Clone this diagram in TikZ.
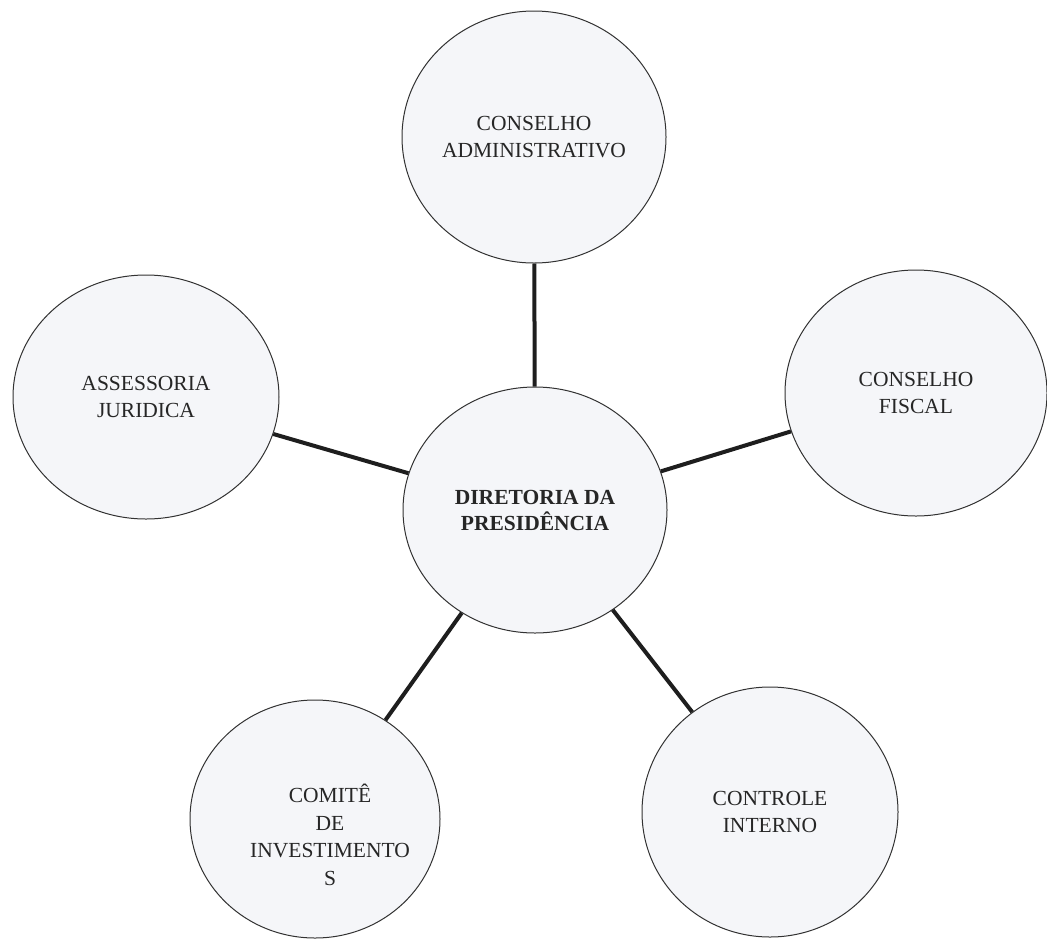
\documentclass[tikz,border=0pt]{standalone}
\usepackage{fontspec}
\setmainfont{Liberation Serif}
\usetikzlibrary{shapes.geometric}
\definecolor{bubble}{RGB}{245,246,249}
\definecolor{edgeline}{RGB}{50,50,50}
\definecolor{connector}{RGB}{30,30,30}
\begin{document}
\begin{tikzpicture}[x=1pt,y=-1pt,
  bubblebox/.style={ellipse,draw=edgeline,line width=1pt,fill=bubble,inner sep=0pt,
     align=center,font=\fontsize{21.5}{27}\selectfont,text=black!85},
  tie/.style={draw=connector,line width=4pt}]
\useasboundingbox (0,0) rectangle (1047,938);
\node[bubblebox,minimum width=264pt,minimum height=252pt] (admin) at (534,137) {CONSELHO\\ADMINISTRATIVO};
\node[bubblebox,minimum width=264pt,minimum height=246pt,font=\bfseries\fontsize{21.5}{26}\selectfont] (dir) at (535,510) {DIRETORIA DA\\PRESIDÊNCIA};
\node[bubblebox,minimum width=266pt,minimum height=244pt] (jur) at (146,397) {ASSESSORIA\\JURIDICA};
\node[bubblebox,minimum width=262pt,minimum height=246pt] (fiscal) at (916,393) {CONSELHO\\FISCAL};
\node[bubblebox,minimum width=250pt,minimum height=238pt] (comite) at (315,819) {};
\node[align=center,font=\fontsize{21.5}{27.5}\selectfont,text=black!85,inner sep=0pt] (comitetxt) at (330,835) {COMITÊ\\DE\\INVESTIMENTO\\S};
\node[bubblebox,minimum width=256pt,minimum height=250pt] (ctrl) at (770,812) {CONTROLE\\INTERNO};
\path[tie] (admin) -- (dir);
\path[tie] (jur) -- (dir);
\path[tie] (fiscal) -- (dir);
\path[tie] (comite) -- (dir);
\path[tie] (ctrl) -- (dir);
\end{tikzpicture}
\end{document}
